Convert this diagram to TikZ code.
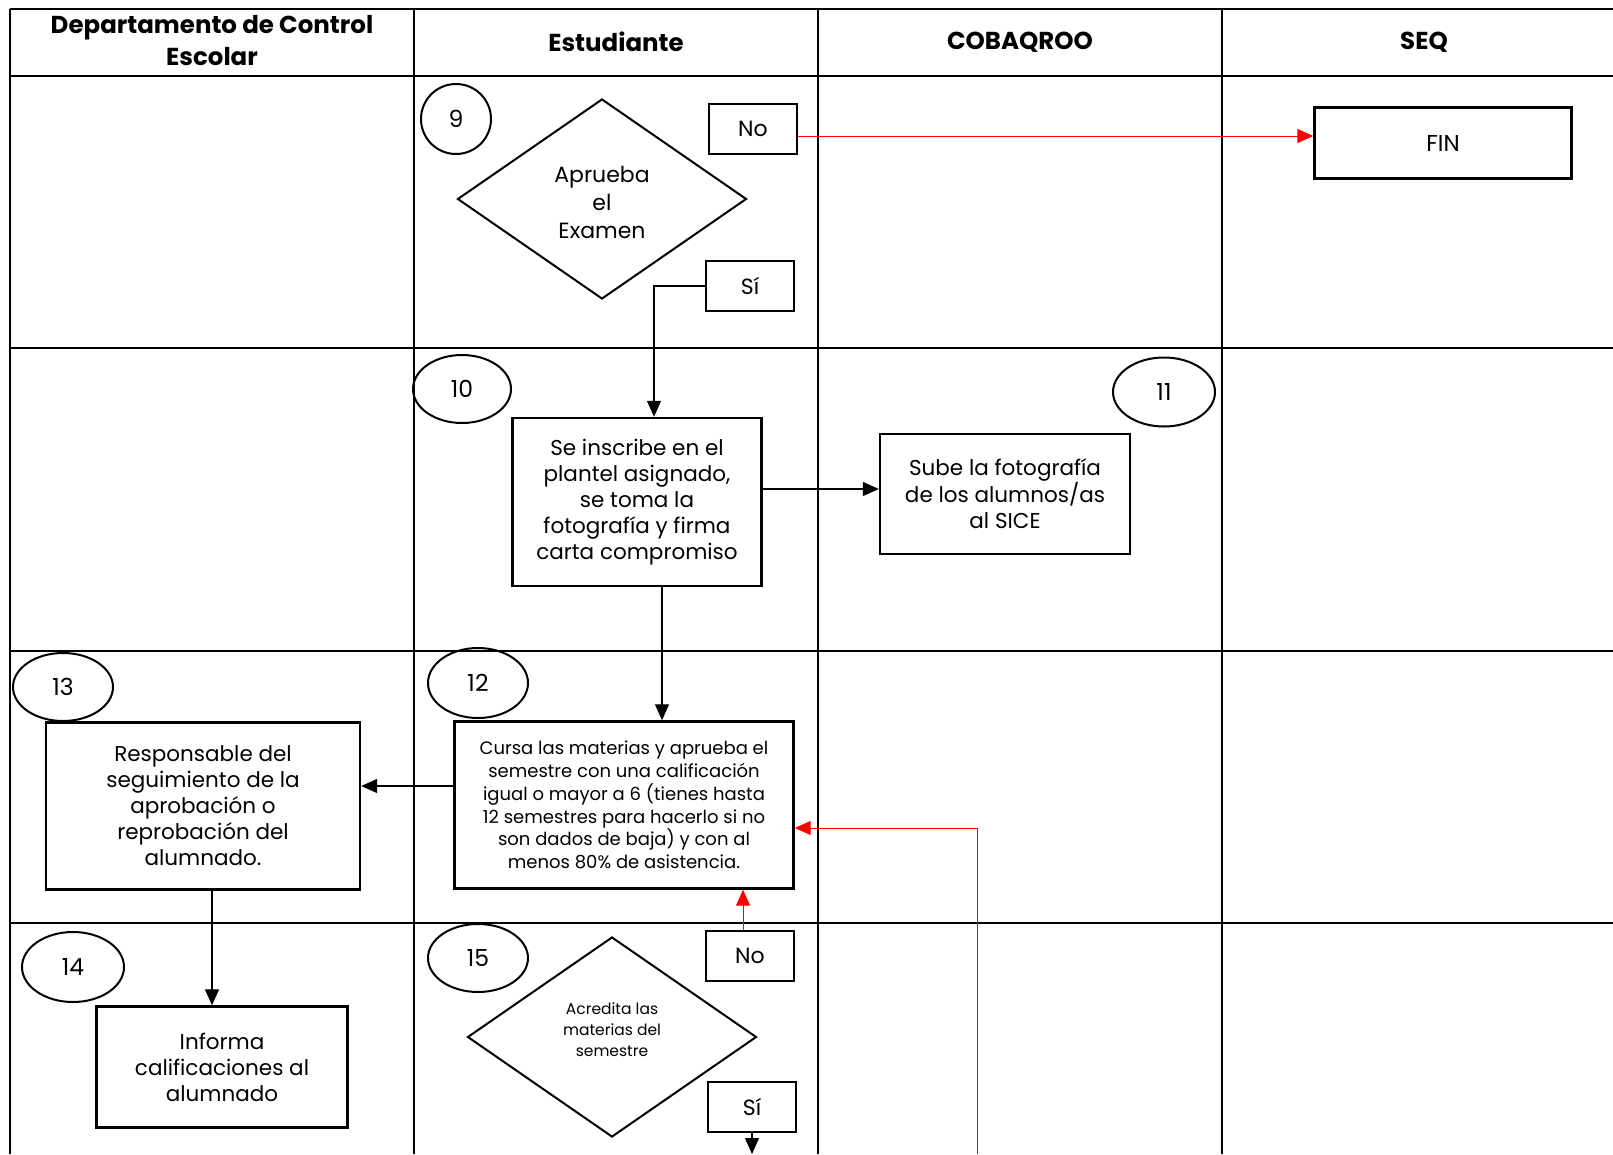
\documentclass[tikz,border=0pt]{standalone}
\usepackage{fontspec}
\setmainfont{Poppins}
\usetikzlibrary{shapes.geometric,arrows.meta,positioning}

\begin{document}
\begin{tikzpicture}[x=1pt,y=-1pt,
      linea/.style={line width=2pt},
      paso/.style={rectangle, draw=black, line width=2.4pt, align=center, inner sep=0pt, font=\fontsize{21.5}{26}\selectfont},
      etiqueta/.style={rectangle, draw=black, line width=2.4pt, minimum width=88pt, minimum height=50pt, inner sep=0pt, font=\fontsize{22}{26}\selectfont},
      numero/.style={ellipse, draw=black, line width=2pt, inner sep=0pt, font=\fontsize{23.5}{26}\selectfont},
      decision/.style={diamond, draw=black, line width=2pt, align=center, inner sep=0pt, minimum width=289pt, minimum height=200pt},
      titulo/.style={align=center, font=\bfseries\fontsize{24.5}{32}\selectfont},
      pfeil/.style={-{Triangle[length=16pt,width=14pt]}, line width=1.2pt},
      rojo/.style={pfeil, red, line width=1pt}]

\useasboundingbox (0,0) rectangle (1613,1154);

% tabla
\foreach \y in {9,76,348,651,923} \draw[linea] (10,\y) -- (1613,\y);
\foreach \x in {10,414,818,1222} \draw[linea] (\x,9) -- (\x,1154);

\node[titulo] (h1) at (212,41) {Departamento de Control\\Escolar};
\node[titulo] (h2) at (616,42) {Estudiante};
\node[titulo] (h3) at (1020,42) {COBAQROO};
\node[titulo] (h4) at (1424,42) {SEQ};

% fila 1
\node[numero, minimum width=70pt, minimum height=70pt] (n9) at (456,119) {9};
\node[decision, label={[align=center, yshift=-3pt, font=\fontsize{22}{28}\selectfont]center:{Aprueba\\el\\Examen}}] (d9) at (602,199) {};
\node[etiqueta] (no9) at (753,129) {No};
\node[etiqueta] (si9) at (750,286) {Sí};
\node[paso, minimum width=257pt, minimum height=71pt, font=\fontsize{23}{26}\selectfont] (fin) at (1443,143) {FIN};

% fila 2
\node[numero, minimum width=98pt, minimum height=68pt] (n10) at (462,389) {10};
\node[paso, minimum width=249pt, minimum height=168pt] (p10) at (637,502) {Se inscribe en el\\plantel asignado,\\se toma la\\fotografía y firma\\carta compromiso};
\node[numero, minimum width=102pt, minimum height=69pt] (n11) at (1164,392) {11};
\node[paso, minimum width=250pt, minimum height=120pt] (p11) at (1005,494) {Sube la fotografía\\de los alumnos/as\\al SICE};

% fila 3
\node[numero, minimum width=100pt, minimum height=68pt] (n13) at (63,687) {13};
\node[numero, minimum width=100pt, minimum height=70pt] (n12) at (478,683) {12};
\node[paso, minimum width=314pt, minimum height=167pt] (p13) at (203,806) {Responsable del\\seguimiento de la\\aprobación o\\reprobación del\\alumnado.};
\node[paso, minimum width=339pt, minimum height=167pt, font=\fontsize{18}{22.8}\selectfont] (p12) at (624,805) {Cursa las materias y aprueba el\\semestre con una calificación\\igual o mayor a 6 (tienes hasta\\12 semestres para hacerlo si no\\son dados de baja) y con al\\menos 80\% de asistencia.};

% fila 4
\node[numero, minimum width=102pt, minimum height=70pt] (n14) at (73,967) {14};
\node[paso, minimum width=251pt, minimum height=121pt] (p14) at (222,1067) {Informa\\calificaciones al\\alumnado};
\node[numero, minimum width=100pt, minimum height=68pt] (n15) at (478,958) {15};
\node[decision, label={[align=center, yshift=7pt, font=\fontsize{15.5}{21}\selectfont]center:{Acredita las\\materias del\\semestre}}] (d15) at (612,1037) {};
\node[etiqueta] (no15) at (750,956) {No};
\node[etiqueta] (si15) at (752,1107) {Sí};

% conectores
\coordinate (c1) at (654,0);
\coordinate (c2) at (662,0);
\coordinate (c3) at (212,0);
\coordinate (c4) at (743,0);
\coordinate (r1) at (977,1154);
\coordinate (s1) at (752,1154);

\draw[rojo] (no9.east |- 0,136) -- (fin.west |- 0,136);
\draw[pfeil] (si9.west) -| (c1 |- p10.north);
\draw[pfeil] (p10.east |- 0,489) -- (p11.west |- 0,489);
\draw[pfeil] (c2 |- p10.south) -- (c2 |- p12.north);
\draw[pfeil] (p12.west |- 0,786) -- (p13.east |- 0,786);
\draw[pfeil] (c3 |- p13.south) -- (c3 |- p14.north);
\draw[rojo] (r1) |- (p12.east |- 0,828);
\draw[rojo] (c4 |- no15.north) -- (c4 |- p12.south);
\draw[pfeil] (si15.south) -- (s1);

\end{tikzpicture}
\end{document}
